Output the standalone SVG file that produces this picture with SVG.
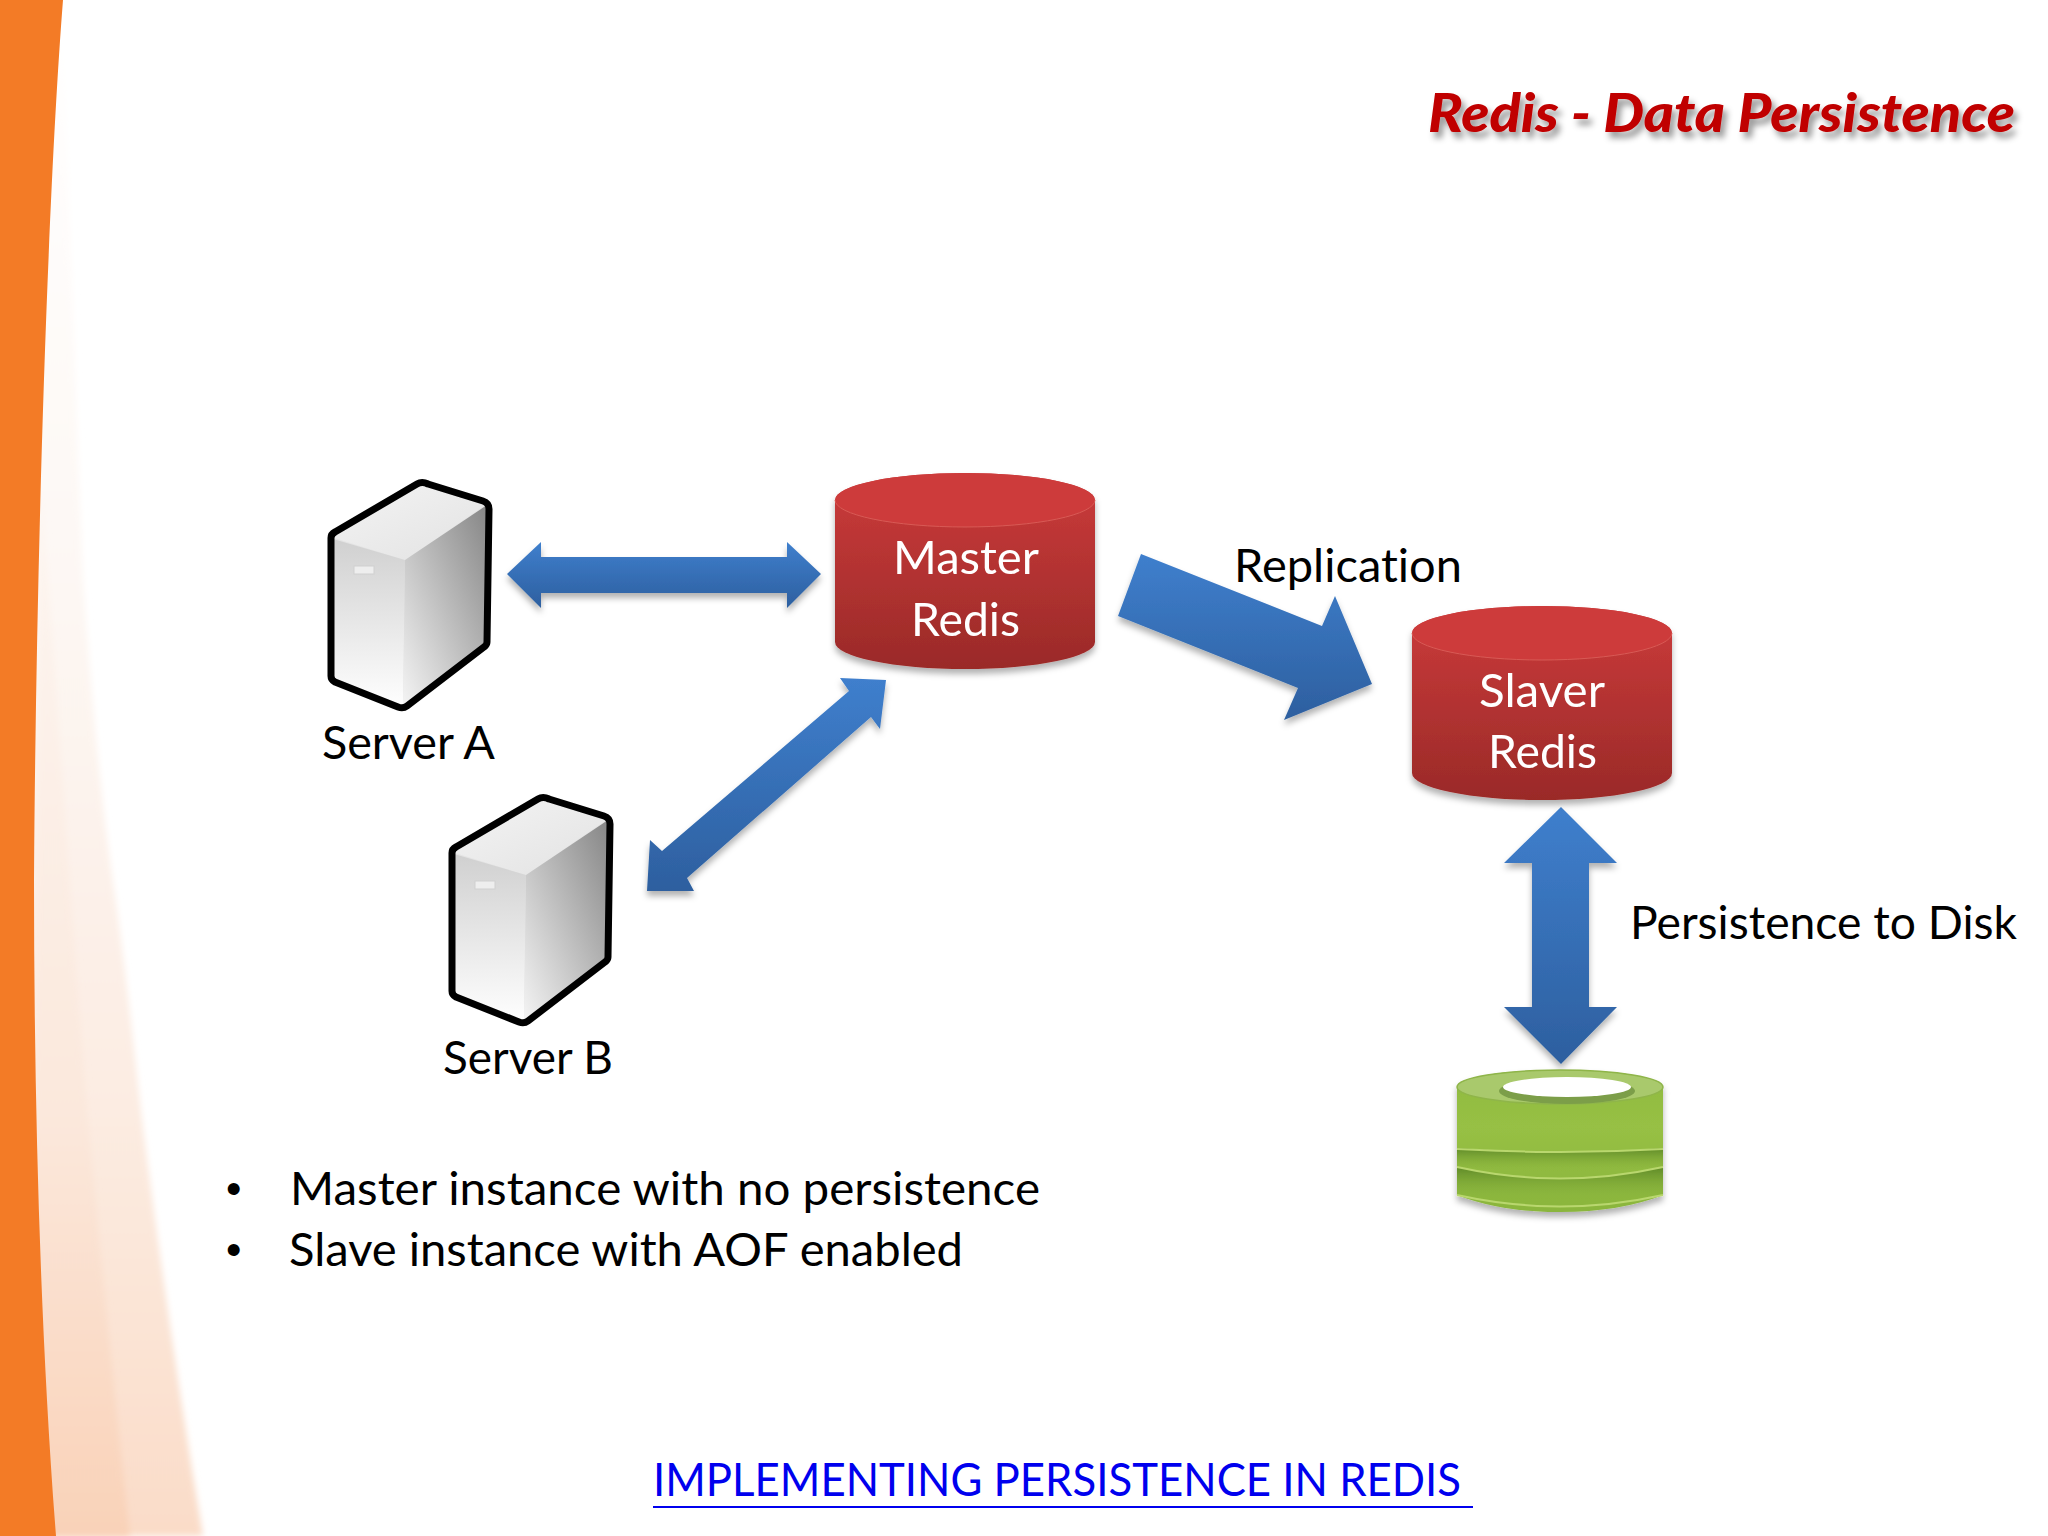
<svg xmlns="http://www.w3.org/2000/svg" width="2048" height="1536" viewBox="0 0 2048 1536">
<style>
text{font-variant-ligatures:none}
.lbl{font-family:Lato,"Open Sans",sans-serif;font-size:46px;fill:#000}
.wht{font-family:Lato,"Open Sans",sans-serif;font-size:46px;fill:#fff}
.arrow{fill:url(#blue);filter:url(#soft)}
.bl{fill:none;stroke:#b9d76e;stroke-width:2}
</style>
<defs>
<linearGradient id="blue" x1="0" y1="0" x2="0" y2="1"><stop offset="0" stop-color="#3f7fcd"/><stop offset="1" stop-color="#2d5f9f"/></linearGradient>
<linearGradient id="red" x1="0" y1="0" x2="0" y2="1"><stop offset="0" stop-color="#cc3b3b"/><stop offset="1" stop-color="#9a2a28"/></linearGradient>
<linearGradient id="green" x1="0" y1="0" x2="0" y2="1"><stop offset="0" stop-color="#8fba40"/><stop offset=".4" stop-color="#97c044"/><stop offset="1" stop-color="#8ab53c"/></linearGradient>
<linearGradient id="band" x1="0" y1="0" x2="0" y2="1"><stop offset="0" stop-color="#5f8a28"/><stop offset="1" stop-color="#8ab53c" stop-opacity="0"/></linearGradient>
<linearGradient id="sTop" x1="0" y1="0" x2="1" y2="1"><stop offset="0" stop-color="#f4f4f4"/><stop offset="1" stop-color="#e2e2e2"/></linearGradient>
<linearGradient id="sFront" x1="0" y1="0" x2="0" y2="1"><stop offset="0" stop-color="#d0d0d0"/><stop offset="1" stop-color="#fefefe"/></linearGradient>
<linearGradient id="sSide" x1="1" y1="0" x2="0" y2="1"><stop offset="0" stop-color="#868686"/><stop offset="1" stop-color="#f4f4f4"/></linearGradient>
<linearGradient id="sw1" x1="0" y1="0" x2="0" y2="1"><stop offset="0" stop-color="#fff"/><stop offset=".4" stop-color="#fdf7f3"/><stop offset=".72" stop-color="#fcece2"/><stop offset="1" stop-color="#fadcc8"/></linearGradient>
<linearGradient id="sw2" x1="0" y1="0" x2="0" y2="1"><stop offset="0" stop-color="#fdf6f1"/><stop offset=".6" stop-color="#fbe8dc"/><stop offset="1" stop-color="#f9d2b8"/></linearGradient>
<filter id="soft" x="-20%" y="-20%" width="140%" height="140%"><feDropShadow dx="0" dy="5" stdDeviation="3" flood-color="#000" flood-opacity=".3"/></filter>
<filter id="titleSh" x="-5%" y="-30%" width="110%" height="170%"><feDropShadow dx="4" dy="6" stdDeviation="3" flood-color="#000" flood-opacity=".4"/></filter>
<filter id="blur" x="-30%" y="-5%" width="160%" height="110%"><feGaussianBlur stdDeviation="3"/></filter>
<g id="server">
<path d="M422,484 L488,503 L486,645 L403,708 L331,680 L331,535 Z" fill="#e4e4e4"/>
<path d="M422,484 L488,503 L405,560 L331,537 Z" fill="url(#sTop)"/>
<path d="M333,539 L405,560 L403,706 L333,680 Z" fill="url(#sFront)"/>
<path d="M487,505 L405,560 L403,706 L486,645 Z" fill="url(#sSide)"/>
<rect x="354" y="566" width="20" height="8" fill="#eee" stroke="#d0d0d0" stroke-width="1"/>
<path d="M417,484 Q422,481 428,484 L483,501 Q489,503 489,509 L487,642 Q487,645 484,647 L407,706 Q403,709 398,707 L335,682 Q331,680 331,676 L331,538 Q331,534 335,532 Z" fill="none" stroke="#000" stroke-width="7" stroke-linejoin="round"/>
</g>
</defs>
<rect width="2048" height="1536" fill="#fff"/>
<g id="background">
<path d="M63,0 C68,150 72,300 83,578 C92,700 100,790 113,882 C125,960 135,1060 143,1127 C160,1260 180,1400 203,1536 H0 V0 Z" fill="url(#sw1)" filter="url(#blur)"/>
<path d="M40,480 C55,650 70,900 87,1108 C100,1250 115,1400 130,1536 H30 Z" fill="url(#sw2)" filter="url(#blur)"/>
<path d="M0,0 H63 C48,190 36,560 34,880 C34,1100 40,1330 56,1536 H0 Z" fill="#f37b26"/>
</g>
<g id="connectors">
<path class="arrow" d="M507,574 L541,542 V557 H787 V542 L821,574 L787,608 V593 H541 V608 Z"/>
<path class="arrow" d="M886,680 L840,678 L849,691 L662,851 L650,840 L647,891 L694,891 L687,878 L871,717 L880,729 Z"/>
<path class="arrow" d="M1141,554 L1322,626 L1335,596 L1372,684 L1284,720 L1298,688 L1118,616 Z"/>
<path class="arrow" d="M1561,807 L1617,863 H1589 V1007 H1617 L1561,1064 L1504,1007 H1532 V863 H1504 Z"/>
</g>
<g id="server-a">
<use href="#server"/>
<text class="lbl" x="322" y="759" textLength="173" lengthAdjust="spacingAndGlyphs">Server A</text>
</g>
<g id="server-b">
<use href="#server" x="121" y="315"/>
<text class="lbl" x="443" y="1074" textLength="170" lengthAdjust="spacingAndGlyphs">Server B</text>
</g>
<g id="master-redis" filter="url(#soft)">
<path d="M835,500 A130,27 0 0 1 1095,500 V642 A130,27 0 0 1 835,642 Z" fill="url(#red)"/>
<path d="M835,500 A130,27 0 0 1 1095,500 A130,27 0 0 1 835,500 Z" fill="#cd3b3b"/>
<path d="M835,500 A130,27 0 0 0 1095,500" fill="none" stroke="#d85a55" stroke-width="1"/>
<text class="wht" x="893" y="574" textLength="146" lengthAdjust="spacingAndGlyphs">Master</text>
<text class="wht" x="911" y="636" textLength="109" lengthAdjust="spacingAndGlyphs">Redis</text>
</g>
<g id="slaver-redis" filter="url(#soft)">
<path d="M1412,633 A130,27 0 0 1 1672,633 V773 A130,27 0 0 1 1412,773 Z" fill="url(#red)"/>
<path d="M1412,633 A130,27 0 0 1 1672,633 A130,27 0 0 1 1412,633 Z" fill="#cd3b3b"/>
<path d="M1412,633 A130,27 0 0 0 1672,633" fill="none" stroke="#d85a55" stroke-width="1"/>
<text class="wht" x="1479" y="707" textLength="126" lengthAdjust="spacingAndGlyphs">Slaver</text>
<text class="wht" x="1488" y="768" textLength="109" lengthAdjust="spacingAndGlyphs">Redis</text>
</g>
<g id="disk" filter="url(#soft)">
<path d="M1457,1087 A103,17 0 0 1 1663,1087 V1195 Q1620,1212 1560,1212 Q1500,1212 1457,1195 Z" fill="url(#green)"/>
<path d="M1457,1148 Q1560,1156 1663,1148 V1167 Q1560,1176 1457,1167 Z" fill="url(#band)"/>
<path d="M1457,1167 Q1560,1190 1663,1167 V1195 Q1560,1206 1457,1195 Z" fill="url(#band)"/>
<path class="bl" d="M1457,1149 Q1560,1155 1663,1149"/>
<path class="bl" d="M1457,1167 Q1560,1190 1663,1167"/>
<path class="bl" d="M1457,1195 Q1560,1218 1663,1195"/>
<path d="M1457,1087 A103,17 0 0 1 1663,1087 A103,17 0 0 1 1457,1087 Z" fill="#a9c96c" stroke="#8fb54a" stroke-width="1.5"/>
<ellipse cx="1567" cy="1091" rx="68" ry="13" fill="#7c9e48"/>
<ellipse cx="1567" cy="1087" rx="64" ry="10" fill="#fff"/>
</g>
<g id="title">
<text x="1428" y="132" textLength="587" lengthAdjust="spacingAndGlyphs" filter="url(#titleSh)" style="font-family:Lato,'Open Sans',sans-serif;font-weight:900;font-style:italic;font-size:54px;fill:#c00000">Redis - Data Persistence</text>
</g>
<g id="labels">
<text class="lbl" x="1234" y="582" textLength="228" lengthAdjust="spacingAndGlyphs">Replication</text>
<text class="lbl" x="1630" y="939" textLength="387" lengthAdjust="spacingAndGlyphs">Persistence to Disk</text>
</g>
<g id="bullets">
<text x="226" y="1204" style="font-family:'Liberation Sans',sans-serif;font-size:44px">•</text>
<text class="lbl" x="290" y="1205" textLength="750" lengthAdjust="spacingAndGlyphs">Master instance with no persistence</text>
<text x="226" y="1265" style="font-family:'Liberation Sans',sans-serif;font-size:44px">•</text>
<text class="lbl" x="289" y="1266" textLength="674" lengthAdjust="spacingAndGlyphs">Slave instance with AOF enabled</text>
</g>
<g id="link">
<text class="lbl" x="653" y="1496" textLength="808" lengthAdjust="spacingAndGlyphs" style="fill:#0000ee">IMPLEMENTING PERSISTENCE IN REDIS</text>
<line x1="653" y1="1507" x2="1473" y2="1507" stroke="#0000ee" stroke-width="2"/>
</g>
</svg>
